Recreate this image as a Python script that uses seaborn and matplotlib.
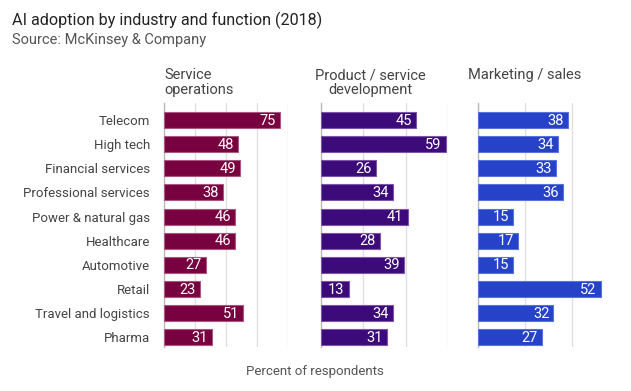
import pandas as pd
import matplotlib.pyplot as plt
import seaborn as sns

industries = ['Telecom', 'High tech', 'Financial services', 'Professional services',
              'Power & natural gas', 'Healthcare', 'Automotive', 'Retail',
              'Travel and logistics', 'Pharma']
service_ops = [75, 48, 49, 38, 46, 46, 27, 23, 51, 31]
product_dev = [45, 59, 26, 34, 41, 28, 39, 13, 34, 31]
marketing = [38, 34, 33, 36, 15, 17, 15, 52, 32, 27]

panel_titles = ['Service\noperations', 'Product / service\ndevelopment', 'Marketing / sales']
panel_colors = ['#78023f', '#3d0a7a', '#2542c8']
panel_edges = ['#a8577f', '#7a55a8', '#5a72dc']
panel_xmax = [80, 60, 53]

sns.set_style('white')
plt.rcParams['font.family'] = ['Roboto', 'DejaVu Sans']

fig = plt.figure(figsize=(6.31, 3.91), dpi=100)
W, H = 631, 391
lefts = [164, 321, 478]
widths = [124, 127, 125]
# title anchor x and alignment per panel
title_x = [164, 370, 468]
title_ha = ['left', 'center', 'left']
top_px, bot_px = 103, 347

series = [service_ops, product_dev, marketing]
for i, vals in enumerate(series):
    ax = fig.add_axes([lefts[i] / W, 1 - bot_px / H, widths[i] / W, (bot_px - top_px) / H])
    df = pd.DataFrame({'industry': industries, 'value': vals})
    sns.barplot(data=df, x='value', y='industry', orient='h', ax=ax,
                color=panel_colors[i], saturation=1, width=0.66,
                edgecolor=panel_edges[i], linewidth=0.8, zorder=3)
    ax.set_xlim(0, panel_xmax[i])
    ax.set_ylim(9.41, -0.71)
    ax.set_xticks(range(0, panel_xmax[i] + 1, 20))
    ax.xaxis.grid(True, color='#dedede', linewidth=0.9, zorder=0)
    ax.set_axisbelow(True)
    ax.tick_params(axis='x', length=0, labelbottom=False)
    ax.tick_params(axis='y', length=0, labelsize=9.5, labelcolor='#444444', pad=10)
    for s in ['top', 'right', 'bottom']:
        ax.spines[s].set_visible(False)
    ax.spines['left'].set_color('#bbbbbb')
    ax.spines['left'].set_linewidth(1)
    ax.set_xlabel('')
    ax.set_ylabel('')
    if i > 0:
        ax.set_yticklabels([])
    for p, v in zip(ax.patches, vals):
        ax.annotate(str(v), (p.get_width(), p.get_y() + p.get_height() / 2),
                    xytext=(-3, -0.5), textcoords='offset points',
                    ha='right', va='center', color='white', fontsize=10.5, zorder=4)
    fig.text(title_x[i] / W, 1 - 68 / H, panel_titles[i], ha=title_ha[i], va='top',
             multialignment=title_ha[i], fontsize=10.5, color='#444444', linespacing=1.1)

fig.text(12 / W, 1 - 20 / H, 'AI adoption by industry and function (2018)',
         fontsize=11.6, color='#222222', va='center', ha='left')
fig.text(12 / W, 1 - 40 / H, 'Source: McKinsey & Company',
         fontsize=10.5, color='#555555', va='center', ha='left')
fig.text(315 / W, 1 - 372 / H, 'Percent of respondents',
         fontsize=9.5, color='#555555', va='center', ha='center')

fig.savefig('out.png', dpi=100)
